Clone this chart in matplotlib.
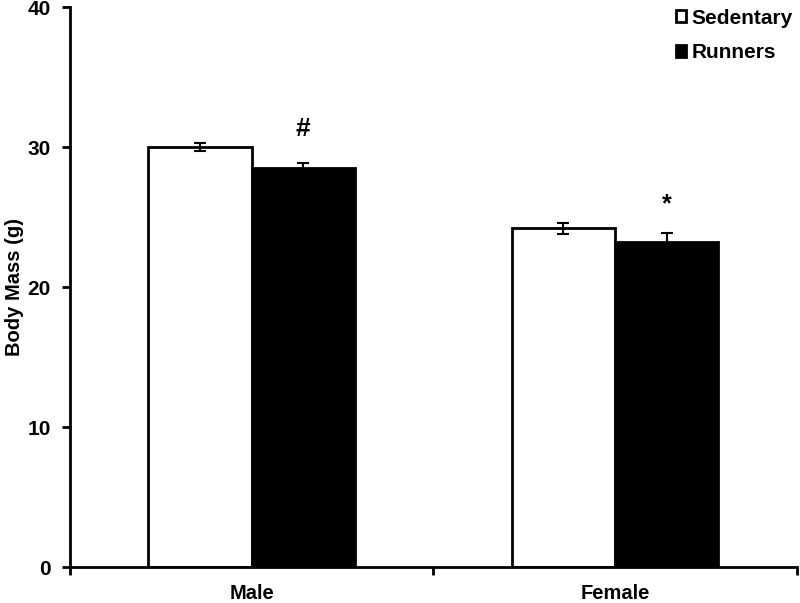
import matplotlib
matplotlib.use("Agg")
import matplotlib.pyplot as plt
import numpy as np

plt.rcParams['font.family'] = ['Liberation Sans', 'DejaVu Sans']
plt.rcParams['font.weight'] = 'bold'

categories = ["Male", "Female"]
sedentary = [30.0, 24.2]
sedentary_err = [0.3, 0.4]
runners = [28.5, 23.2]
runners_err = [0.4, 0.7]
annotations = ["#", "*"]
yticks = [0, 10, 20, 30, 40]

fig = plt.figure(figsize=(8.0, 6.03), dpi=100)
ax = fig.add_axes([0.0875, 0.0597, 0.9085, 0.9283])

centers = np.array([0.5, 1.5])
w = 0.284
ax.bar(centers - w/2, sedentary, w, color='white', edgecolor='black', linewidth=2,
       yerr=sedentary_err, error_kw=dict(ecolor='black', elinewidth=1.5, capsize=4, capthick=1.5),
       label='Sedentary', zorder=2)
ax.bar(centers + w/2, runners, w, color='black', edgecolor='black', linewidth=2,
       yerr=runners_err, error_kw=dict(ecolor='black', elinewidth=1.5, capsize=4, capthick=1.5),
       label='Runners', zorder=2)

ann_offset = [2.4, 2.0]
ann_size = [19, 18]
for i, a in enumerate(annotations):
    ax.text(centers[i] + w/2, runners[i] + runners_err[i] + ann_offset[i], a, ha='center', va='center',
            fontsize=ann_size[i], fontweight='bold')

ax.set_xlim(0, 2)
ax.set_ylim(0, 40)
ax.set_yticks(yticks)
ax.set_yticklabels([str(t) for t in yticks], fontsize=15, fontweight='bold')
ax.set_xticks([0, 1, 2])
ax.set_xticklabels([])
ax.set_xticks(centers, minor=True)
ax.set_xticklabels(categories, minor=True, fontsize=14.5, fontweight='bold')
ax.tick_params(axis='x', which='minor', length=0, pad=12)
ax.tick_params(axis='x', which='major', length=6, width=2, direction='out')
ax.tick_params(axis='y', length=6, width=2, direction='out', pad=8)
ax.set_ylabel("Body Mass (g)", fontsize=14.5, fontweight='bold')
ax.yaxis.set_label_coords(-0.0757, 0.5)
ax.yaxis.label.set_va('center')

for s in ['top', 'right']:
    ax.spines[s].set_visible(False)
for s in ['left', 'bottom']:
    ax.spines[s].set_linewidth(2)

leg = ax.legend(loc='upper right', bbox_to_anchor=(1.0, 1.005), frameon=False,
                prop={'size': 15, 'weight': 'bold'}, handlelength=0.5, handleheight=0.5,
                handletextpad=0.25, labelspacing=0.75, borderpad=0.1, borderaxespad=0.1)

fig.savefig("out.png", dpi=100)
